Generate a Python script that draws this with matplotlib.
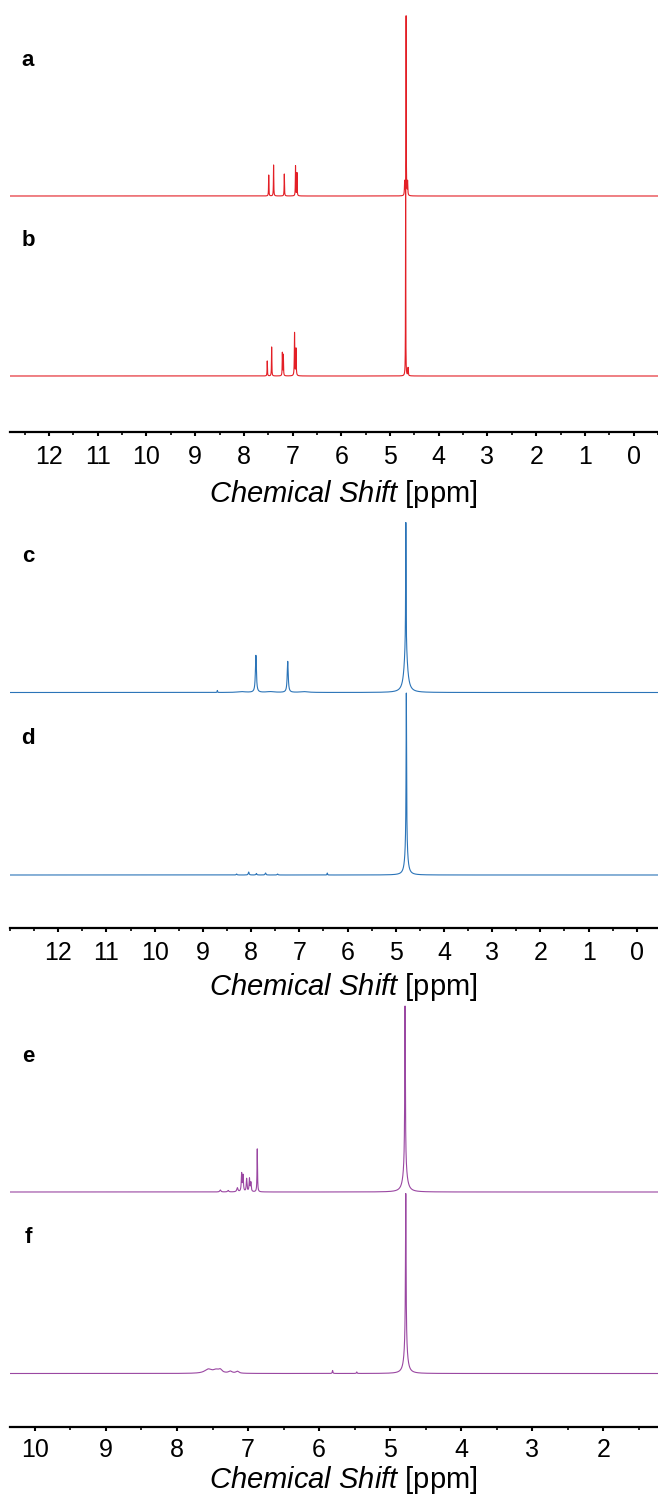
import numpy as np
import matplotlib
matplotlib.use("Agg")
import matplotlib.pyplot as plt
from matplotlib.ticker import MultipleLocator

plt.rcParams['font.family'] = ['Liberation Sans', 'DejaVu Sans']
plt.rcParams['mathtext.fontset'] = 'custom'
plt.rcParams['mathtext.rm'] = 'Liberation Sans'
plt.rcParams['mathtext.it'] = 'Liberation Sans:italic'

# ---- peak lists (ppm, height [a.u.], FWHM [ppm]) ----
a_pos = [7.49, 7.39, 7.17, 6.94, 6.91, 4.67, 4.70, 4.64]
a_h   = [21, 31, 22, 30, 23, 180, 14, 14]
a_w   = [0.008, 0.008, 0.008, 0.008, 0.008, 0.006, 0.01, 0.01]

b_pos = [7.52, 7.43, 7.21, 7.19, 6.96, 6.93, 4.68, 4.63]
b_h   = [15, 29, 23, 21, 43, 27, 190, 8]
b_w   = [0.008, 0.008, 0.008, 0.008, 0.01, 0.01, 0.006, 0.01]

c_pos = [8.70, 7.90, 7.24, 4.79, 4.79, 8.2, 7.6, 6.9]
c_h   = [2, 37, 31, 125, 45, 0.8, 0.8, 0.8]
c_w   = [0.01, 0.025, 0.025, 0.010, 0.08, 0.2, 0.2, 0.2]

d_pos = [8.30, 8.05, 7.89, 7.70, 7.45, 6.42, 4.78, 4.78]
d_h   = [1, 3, 1.5, 2, 1, 2, 150, 32]
d_w   = [0.02, 0.02, 0.02, 0.02, 0.02, 0.01, 0.012, 0.06]

e_pos = [7.39, 7.28, 7.15, 7.09, 7.07, 7.02, 6.98, 6.96, 6.87, 4.79, 4.79]
e_h   = [2, 1.5, 4, 18, 16, 13, 13, 9, 43, 160, 26]
e_w   = [0.02, 0.02, 0.02, 0.012, 0.012, 0.012, 0.012, 0.012, 0.008, 0.01, 0.06]

f_pos = [7.56, 7.45, 7.39, 7.25, 7.15, 5.81, 5.47, 4.78, 4.78]
f_h   = [4, 3, 3, 2, 2, 3, 1.5, 150, 30]
f_w   = [0.12, 0.1, 0.06, 0.06, 0.05, 0.01, 0.01, 0.01, 0.05]

# panel axis ranges (ppm), tick values and labels
xlims = [(12.8, -0.5), (13.0, -0.44), (10.35, 1.23)]
xticks = [list(range(0, 13)), list(range(0, 13)), list(range(2, 11))]
panel_letters = [("a", "b"), ("c", "d"), ("e", "f")]
colors = ["#E31F26", "#2B74B8", "#9A47A2"]


def spectrum(x, pos, h, w):
    y = np.zeros_like(x)
    for p, hh, ww in zip(pos, h, w):
        y += hh / (1.0 + ((x - p) / (ww / 2.0)) ** 2)
    return y


W, H = 658, 1499
fig = plt.figure(figsize=(W / 100, H / 100), dpi=100)

# layout in pixel coordinates: (axis line y, axes top y, upper baseline offset, lower baseline offset, xlabel gap, tick pad)
layout = [(432, 0, 236, 56, 46, 6), (928, 496, 235.5, 53, 43, 6), (1427, 995, 235, 53.5, 37, 5)]
spectra = [((a_pos, a_h, a_w), (b_pos, b_h, b_w)),
           ((c_pos, c_h, c_w), (d_pos, d_h, d_w)),
           ((e_pos, e_h, e_w), (f_pos, f_h, f_w))]

axl = 10
for i in range(3):
    yax, ytop, off_up, off_lo, lgap, tpad = layout[i]
    left = axl / W
    bottom = 1 - yax / H
    height = (yax - ytop) / H
    ax = fig.add_axes([left, bottom, 1 - left, height])
    ax.patch.set_visible(False)
    x = np.linspace(xlims[i][0], xlims[i][1], 40000)
    up, lo = spectra[i]
    ax.plot(x, spectrum(x, *up) + off_up, color=colors[i], lw=0.8)
    ax.plot(x, spectrum(x, *lo) + off_lo, color=colors[i], lw=0.8)
    ax.set_xlim(*xlims[i])
    ax.set_ylim(0, yax - ytop)
    for s in ["top", "left", "right"]:
        ax.spines[s].set_visible(False)
    ax.spines["bottom"].set_linewidth(1.6)
    ax.set_yticks([])
    ax.set_xticks(xticks[i])
    ax.xaxis.set_minor_locator(MultipleLocator(0.5))
    ax.tick_params(axis="x", which="major", direction="out", length=3, width=1.5,
                   labelsize=18, pad=tpad)
    ax.tick_params(axis="x", which="minor", direction="out", length=2, width=1.2)
    ax.set_xlabel(r"$\it{Chemical\ Shift}$ [ppm]", fontsize=21, labelpad=1)
    ax.xaxis.set_label_coords((343 - axl) / (W - axl), -lgap / (yax - ytop))
    # panel letters
    lx = (28 - axl) / (W - axl)
    ax.text(lx, off_up + 136, panel_letters[i][0], transform=ax.get_yaxis_transform(),
            fontsize=16, fontweight="bold", va="center", ha="center")
    ax.text(lx, off_lo + 136, panel_letters[i][1], transform=ax.get_yaxis_transform(),
            fontsize=16, fontweight="bold", va="center", ha="center")

fig.savefig("out.png", dpi=100)
